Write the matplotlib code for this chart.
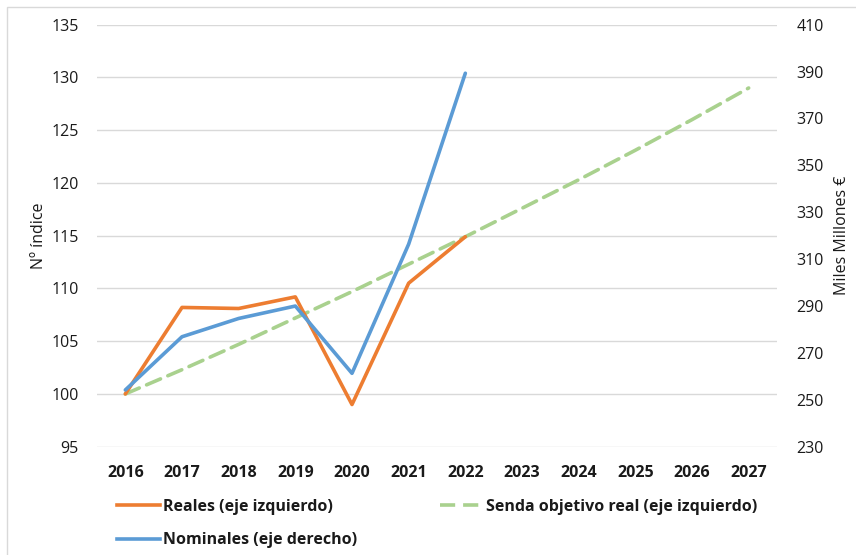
import matplotlib
matplotlib.use("Agg")
import matplotlib.pyplot as plt
from matplotlib.lines import Line2D
from matplotlib.patches import Rectangle

plt.rcParams['font.family'] = ['Open Sans', 'DejaVu Sans']

years = [2016, 2017, 2018, 2019, 2020, 2021, 2022, 2023, 2024, 2025, 2026, 2027]
reales = [100.0, 108.2, 108.1, 109.2, 99.0, 110.5, 114.9]
senda = [100.0, 102.3, 104.7, 107.2, 109.7, 112.3, 114.9, 117.6, 120.3, 123.1, 126.0, 129.0]
nominales = [254.2, 276.9, 284.7, 290.0, 261.3, 316.4, 389.3]

left_ticks = [95, 100, 105, 110, 115, 120, 125, 130, 135]
right_ticks = [230, 250, 270, 290, 310, 330, 350, 370, 390, 410]

c_orange = '#ED7D31'
c_blue = '#5B9BD5'
c_green = '#A9D18E'
txt = '#1a1a1a'
fs = 11.5

fig = plt.figure(figsize=(8.56, 5.55), dpi=100)
ax = fig.add_axes([97/856, 1-446.7/555, 680/856, 422/555])
ax2 = ax.twinx()

x = list(range(len(years)))
lw = 2.6
ax.plot(x[:len(reales)], reales, color=c_orange, lw=lw, solid_capstyle='round', zorder=3)
ax.plot(x, senda, color=c_green, lw=lw, dashes=(4.2, 2.2), dash_capstyle='round', zorder=2)
ax2.plot(x[:len(nominales)], nominales, color=c_blue, lw=lw, solid_capstyle='round', zorder=3)

ax.set_xlim(-0.5, len(years) - 0.5)
ax.set_ylim(95, 135)
ax2.set_ylim(230, 410)
ax.set_yticks(left_ticks)
ax2.set_yticks(right_ticks)
ax.set_xticks(x)
ax.set_xticklabels([str(y) for y in years], fontweight='bold', fontsize=fs, color=txt)
ax.yaxis.grid(True, color='#d9d9d9', lw=1)
ax.set_axisbelow(True)
for a in (ax, ax2):
    for s in a.spines.values():
        s.set_visible(False)
    a.tick_params(length=0)
ax.tick_params(axis='y', labelsize=fs, labelcolor=txt, pad=13)
ax.tick_params(axis='x', pad=13.5)
ax2.tick_params(axis='y', labelsize=fs, labelcolor=txt, pad=14)

ax.set_ylabel('Nº índice', fontsize=fs, color=txt, labelpad=3)
ax2.set_ylabel('Miles Millones €', fontsize=fs, color=txt, labelpad=7)

h_r = Line2D([], [], color=c_orange, lw=lw)
h_n = Line2D([], [], color=c_blue, lw=lw)
h_s = Line2D([], [], color=c_green, lw=lw, dashes=(4.2, 2.2))
leg_kw = dict(frameon=False, handlelength=2.7, handletextpad=0.15, labelspacing=1.07,
              borderpad=0, borderaxespad=0, prop={'weight': 'bold', 'size': fs})
l1 = fig.legend([h_r, h_n], ['Reales (eje izquierdo)', 'Nominales (eje derecho)'],
                loc='upper left', bbox_to_anchor=(117/856, 1-499/555), **leg_kw)
for t in l1.get_texts():
    t.set_color(txt)
l2 = fig.legend([h_s], ['Senda objetivo real (eje izquierdo)'],
                loc='upper left', bbox_to_anchor=(440/856, 1-499/555), **leg_kw)
for t in l2.get_texts():
    t.set_color(txt)

fig.patches.append(Rectangle((7/856, -0.05), 2, 1 - 7/555 + 0.05, transform=fig.transFigure,
                             fill=False, edgecolor='#d9d9d9', lw=1))

fig.savefig('out.png', dpi=100)
